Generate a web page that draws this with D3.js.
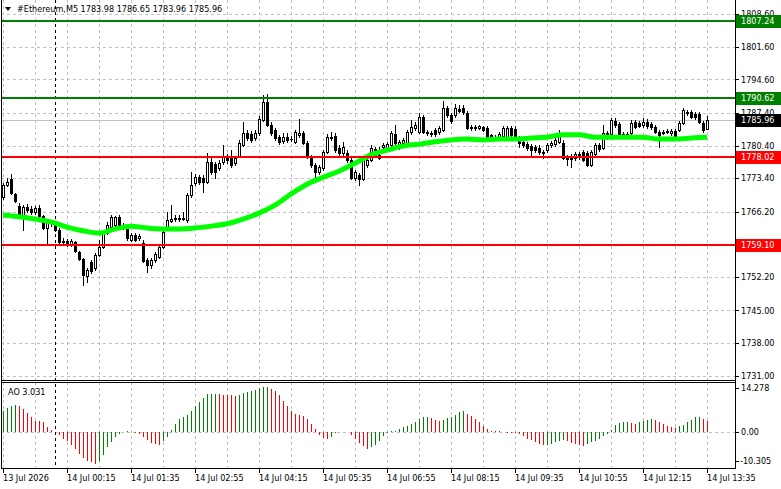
<!DOCTYPE html>
<html>
<head>
<meta charset="utf-8">
<script src="https://cdn.jsdelivr.net/npm/d3@7"></script>
<style>
  body { margin: 0; background: #fff; }
  svg text { font-family: "DejaVu Sans Condensed", "DejaVu Sans", sans-serif; font-size: 9px; }
</style>
</head>
<body>
<div id="chart"></div>
<script>
// ---- data ----
var symbol = "#Ethereum,M5";
var lastQuote = [1783.98, 1786.65, 1783.96, 1785.96];

var open = [
1769.3,1771.9,1773.2,1770.0,1767.4,1765.5,1767.2,1766.8,1766.1,1767.0,
1765.3,1762.7,1764.0,1763.8,1762.3,1759.7,1759.9,1759.0,1759.7,1757.5,
1756.0,1752.4,1755.4,1754.1,1756.9,1758.6,1761.6,1762.9,1763.3,1765.1,
1763.3,1762.9,1760.1,1761.2,1760.5,1759.5,1755.8,1754.8,1755.8,1756.5,
1758.6,1762.9,1764.2,1764.6,1764.8,1764.6,1764.4,1769.8,1772.3,1773.6,
1773.4,1772.6,1776.9,1776.4,1775.6,1776.9,1777.9,1777.7,1776.6,1778.1,
1780.5,1783.1,1782.9,1782.0,1783.1,1785.9,1789.7,1784.8,1783.7,1782.2,
1781.4,1782.2,1781.8,1781.2,1782.7,1783.1,1780.9,1777.9,1776.2,1774.7,
1775.6,1779.0,1782.2,1782.4,1779.9,1778.8,1778.8,1777.3,1773.4,1774.1,
1773.2,1776.2,1777.3,1779.6,1777.7,1780.1,1779.9,1780.5,1782.9,1780.1,
1780.9,1780.9,1783.3,1784.2,1783.3,1786.5,1783.3,1783.1,1783.7,1783.3,
1783.7,1788.4,1786.9,1786.9,1788.2,1788.4,1787.4,1784.2,1784.4,1784.2,
1784.4,1784.2,1782.7,1782.2,1782.0,1782.4,1782.2,1784.2,1783.9,1782.0,
1781.2,1780.7,1780.3,1780.1,1779.9,1779.0,1779.4,1780.5,1780.7,1781.2,
1780.9,1777.9,1778.1,1777.7,1778.6,1779.0,1778.8,1776.2,1778.6,1780.5,
1779.9,1783.1,1782.9,1785.7,1785.0,1782.9,1782.7,1783.1,1785.4,1785.2,
1784.8,1785.4,1785.0,1784.4,1783.3,1783.3,1783.3,1783.1,1783.5,1783.7,
1785.2,1787.6,1787.6,1787.2,1787.2,1785.2,1783.98
];
var high = [
1772.3,1773.4,1774.3,1770.2,1768.1,1767.6,1767.8,1767.4,1767.4,1767.6,
1765.5,1764.4,1764.4,1764.2,1762.7,1760.6,1760.3,1760.3,1759.9,1757.8,
1756.3,1754.1,1755.8,1757.3,1760.1,1762.0,1764.0,1765.5,1765.3,1765.5,
1763.8,1763.3,1761.6,1761.6,1761.4,1760.1,1756.3,1756.3,1757.5,1759.0,
1762.3,1766.1,1767.6,1765.5,1765.5,1766.1,1770.2,1774.7,1774.3,1774.1,
1774.1,1778.8,1777.7,1776.9,1777.3,1780.5,1778.6,1779.4,1778.1,1781.6,
1785.4,1783.7,1783.5,1783.7,1786.7,1791.2,1791.4,1785.4,1784.2,1782.7,
1783.1,1783.1,1782.4,1783.7,1786.1,1783.5,1781.4,1778.4,1776.6,1776.2,
1779.4,1782.9,1783.3,1783.1,1780.5,1781.2,1779.4,1777.7,1775.1,1774.5,
1777.7,1777.7,1780.5,1780.1,1780.1,1780.9,1781.2,1783.5,1784.8,1781.6,
1782.0,1783.7,1785.9,1785.4,1787.4,1786.9,1783.7,1783.5,1784.2,1784.6,
1789.9,1788.9,1787.4,1789.3,1789.1,1789.1,1787.8,1784.8,1784.8,1784.8,
1784.6,1784.6,1782.9,1782.7,1783.3,1784.6,1784.6,1784.6,1784.6,1782.4,
1781.6,1781.2,1780.7,1780.5,1780.5,1779.4,1780.9,1781.4,1782.2,1783.7,
1781.6,1778.4,1778.6,1779.0,1779.0,1779.4,1779.2,1779.4,1780.9,1780.9,
1784.8,1783.5,1786.3,1786.3,1785.4,1783.3,1783.3,1785.9,1785.9,1785.7,
1786.3,1786.1,1785.4,1784.8,1783.7,1783.7,1783.9,1783.9,1783.9,1785.7,
1788.4,1788.0,1788.0,1787.6,1787.6,1785.7,1786.65
];
var low = [
1768.9,1771.7,1770.0,1768.3,1765.3,1762.3,1766.1,1765.7,1765.7,1765.1,
1762.5,1759.0,1763.1,1762.1,1759.5,1759.3,1758.8,1758.8,1757.5,1755.8,
1750.5,1751.1,1753.0,1753.7,1756.7,1758.4,1761.4,1762.7,1762.9,1763.1,
1762.5,1760.1,1759.9,1759.9,1760.1,1755.4,1753.2,1754.1,1755.4,1756.3,
1758.4,1762.5,1764.0,1764.2,1764.2,1764.4,1764.0,1769.3,1771.9,1772.1,
1770.4,1772.3,1774.3,1773.4,1775.1,1776.4,1776.6,1775.8,1776.2,1777.9,
1780.3,1781.6,1781.2,1781.6,1782.7,1785.7,1784.6,1782.7,1781.6,1780.7,
1780.9,1781.2,1781.4,1780.9,1782.2,1780.7,1777.7,1775.8,1772.6,1774.3,
1775.1,1778.8,1781.6,1779.0,1778.4,1778.4,1776.9,1773.2,1773.0,1771.9,
1773.0,1775.8,1777.1,1777.9,1777.5,1779.6,1779.4,1780.3,1780.5,1779.6,
1780.5,1780.7,1782.9,1783.7,1783.1,1783.1,1782.7,1782.4,1782.4,1782.9,
1783.5,1786.5,1785.2,1786.5,1787.6,1787.2,1783.9,1783.7,1783.7,1783.9,
1783.5,1782.0,1781.8,1781.8,1781.8,1782.2,1782.0,1781.8,1781.8,1780.1,
1780.1,1779.4,1778.4,1779.0,1778.6,1777.7,1779.0,1780.1,1780.3,1780.9,
1777.5,1776.2,1775.8,1777.3,1777.5,1777.1,1776.0,1776.0,1778.4,1779.2,
1779.6,1781.8,1782.7,1784.4,1782.7,1782.2,1782.2,1782.9,1784.2,1784.4,
1784.4,1784.2,1783.9,1783.1,1780.1,1782.9,1783.1,1782.7,1781.8,1783.5,
1785.0,1786.9,1786.3,1786.1,1785.2,1783.3,1783.96
];
var close = [
1771.9,1772.6,1770.2,1768.5,1765.5,1767.2,1766.6,1766.1,1767.0,1765.3,
1762.7,1764.0,1763.8,1762.3,1759.7,1759.9,1759.0,1759.9,1757.8,1756.0,
1752.6,1753.7,1753.5,1756.9,1758.6,1761.6,1763.3,1765.1,1765.1,1763.3,
1762.9,1760.5,1761.2,1760.1,1761.0,1755.6,1754.8,1755.8,1757.1,1758.6,
1761.8,1764.4,1764.6,1764.8,1764.6,1764.8,1769.8,1771.9,1773.6,1772.6,
1772.6,1776.9,1774.7,1774.7,1776.6,1777.9,1777.3,1776.2,1777.7,1780.9,
1783.1,1782.0,1781.6,1783.1,1786.1,1789.7,1784.8,1783.1,1782.0,1781.2,
1782.2,1781.6,1781.7,1783.3,1783.1,1780.9,1777.9,1776.2,1774.7,1775.8,
1779.0,1782.2,1782.0,1779.4,1778.8,1780.1,1777.3,1773.4,1774.7,1773.2,
1777.3,1777.3,1779.9,1778.4,1778.4,1780.5,1780.7,1783.1,1780.9,1781.2,
1781.6,1783.3,1784.4,1784.8,1786.5,1783.3,1783.1,1782.9,1782.9,1784.2,
1788.4,1786.9,1785.7,1788.4,1787.8,1787.6,1784.2,1784.4,1784.2,1784.6,
1783.7,1782.2,1782.0,1782.0,1782.9,1784.2,1784.2,1782.6,1782.2,1780.9,
1780.5,1779.9,1779.4,1779.4,1779.0,1778.8,1780.5,1780.9,1781.6,1783.1,
1777.7,1777.5,1777.5,1778.6,1777.9,1777.3,1776.2,1779.0,1780.5,1779.6,
1783.1,1782.2,1785.9,1784.8,1782.9,1782.7,1782.9,1785.2,1784.4,1784.6,
1785.4,1784.6,1784.4,1783.3,1782.7,1783.2,1783.5,1783.5,1782.0,1785.2,
1788.0,1787.4,1786.5,1786.5,1785.4,1783.7,1785.96
];

// moving average, read every 4th bar
var maStep = 4;
var maVals = [
1765.5,1765.1,1764.6,1764.0,1762.9,1762.1,1761.6,1762.5,1763.1,1762.7,
1762.5,1762.5,1762.7,1763.1,1763.6,1764.6,1765.9,1767.6,1770.0,1772.1,
1773.6,1774.9,1776.6,1778.4,1779.4,1780.3,1780.7,1781.2,1781.6,1781.8,
1781.6,1781.8,1781.8,1782.0,1782.2,1782.7,1782.7,1782.2,1782.2,1782.2,
1782.2,1781.8,1781.8,1782.0,1782.2
];

// Awesome Oscillator
var aoVals = [
5.90,6.86,7.52,7.81,7.33,6.57,5.43,4.19,3.24,3.10,
2.90,1.43,0.67,0.10,-0.95,-1.90,-2.67,-3.81,-4.76,-6.29,
-7.43,-8.19,-8.57,-9.05,-8.19,-6.67,-4.38,-2.95,-1.33,-0.57,
-0.10,0.19,0.05,-0.29,-0.57,-1.43,-2.38,-3.14,-3.33,-3.81,
-2.67,-1.33,0.67,2.29,3.71,4.19,4.95,5.90,7.33,8.48,
9.71,10.86,10.95,10.97,10.86,10.70,10.60,10.50,10.40,10.70,
11.00,11.40,11.70,12.10,12.60,12.80,12.90,12.40,11.80,10.60,
8.90,7.30,6.10,5.10,4.80,4.50,3.80,2.30,0.90,-0.80,
-1.70,-2.00,-1.40,-0.30,-0.10,0.02,0.01,-0.95,-1.90,-3.14,
-4.10,-4.76,-4.38,-3.62,-2.60,-1.24,-0.19,0.19,0.38,0.95,
1.33,1.81,2.29,2.76,3.71,4.29,4.35,4.00,3.52,3.24,
3.52,4.00,4.29,4.95,5.71,5.90,5.14,4.48,3.71,2.86,
1.62,0.86,0.38,0.19,0.15,0.00,-0.19,-0.29,-0.38,-0.57,
-1.24,-1.90,-2.38,-2.86,-3.33,-3.81,-3.62,-3.33,-2.86,-2.67,
-2.38,-2.67,-3.14,-3.33,-3.81,-3.90,-3.33,-2.95,-2.67,-2.00,
-1.24,-0.57,0.67,2.10,2.57,2.76,2.86,2.57,2.38,2.86,
3.24,3.52,3.62,3.52,2.86,2.29,1.81,1.33,1.14,1.62,
2.10,2.76,3.52,4.19,4.29,3.71,3.031
];
var aoMax = 14.278, aoMin = -10.305;

var priceTicks = [1808.60,1801.60,1794.60,1787.40,1780.40,1773.40,1766.20,1759.20,1752.20,1745.00,1738.00,1731.00];
var levels = [
  { v: 1807.24, c: "#008000" },
  { v: 1790.62, c: "#008000" },
  { v: 1778.02, c: "#ff0000" },
  { v: 1759.10, c: "#ff0000" }
];
var timeLabels = ["13 Jul 2026","14 Jul 00:15","14 Jul 01:35","14 Jul 02:55","14 Jul 04:15","14 Jul 05:35",
                  "14 Jul 06:55","14 Jul 08:15","14 Jul 09:35","14 Jul 10:55","14 Jul 12:15","14 Jul 13:35"];
var labelEvery = 16, gridEvery = 8, dayStartBar = 13;

// ---- layout ----
var W = 781, H = 489;
var plotL = 1, plotR = 735;
var mainTop = 0, mainBot = 380, aoTop = 382, aoBot = 468;
var n = close.length;

var svg = d3.select("#chart").append("svg")
    .attr("width", W).attr("height", H)
    .style("display", "block");

var x = d3.scaleLinear().domain([0, n - 1]).range([3, 707]);
var y = d3.scaleLinear().domain([1730.5, 1811.0]).range([378, 3]);
var ya = d3.scaleLinear().domain([aoMin, aoMax]).range([aoBot, aoTop]);

function px(v) { return Math.round(v) + 0.5; }

var grid = svg.append("g").attr("shape-rendering", "crispEdges")
    .attr("stroke", "#c0c0c0").attr("stroke-dasharray", "3,3");

// vertical grid
d3.range(0, n, gridEvery).forEach(function(i) {
    grid.append("line").attr("x1", px(x(i))).attr("x2", px(x(i))).attr("y1", mainTop).attr("y2", mainBot);
    grid.append("line").attr("x1", px(x(i))).attr("x2", px(x(i))).attr("y1", aoTop).attr("y2", aoBot);
});
// horizontal grid
priceTicks.forEach(function(p) {
    grid.append("line").attr("x1", plotL).attr("x2", plotR).attr("y1", px(y(p))).attr("y2", px(y(p)));
});
grid.append("line").attr("x1", plotL).attr("x2", plotR).attr("y1", px(ya(0))).attr("y2", px(ya(0)));

// day separator
svg.append("line").attr("shape-rendering", "crispEdges")
    .attr("x1", px(x(dayStartBar))).attr("x2", px(x(dayStartBar)))
    .attr("y1", mainTop).attr("y2", aoBot)
    .attr("stroke", "#000").attr("stroke-dasharray", "3,3");

// current price line
svg.append("line").attr("shape-rendering", "crispEdges")
    .attr("x1", plotL).attr("x2", plotR)
    .attr("y1", px(y(lastQuote[3]))).attr("y2", px(y(lastQuote[3])))
    .attr("stroke", "#c0c0c0");

// candles
var candles = svg.append("g").attr("shape-rendering", "crispEdges");
d3.range(n).forEach(function(i) {
    var cx = Math.round(x(i));
    var yo = Math.round(y(open[i])), yc = Math.round(y(close[i]));
    candles.append("line")
        .attr("x1", cx + 0.5).attr("x2", cx + 0.5)
        .attr("y1", Math.round(y(high[i]))).attr("y2", Math.round(y(low[i])) + 1)
        .attr("stroke", "#000");
    var top = Math.min(yo, yc), h = Math.abs(yo - yc);
    if (h < 1) {
        candles.append("line")
            .attr("x1", cx - 1).attr("x2", cx + 2)
            .attr("y1", top + 0.5).attr("y2", top + 0.5).attr("stroke", "#000");
    } else {
        candles.append("rect")
            .attr("x", cx - 0.5).attr("y", top + 0.5)
            .attr("width", 2).attr("height", h)
            .attr("fill", close[i] >= open[i] ? "#fff" : "#000")
            .attr("stroke", "#000");
    }
});

// moving average
var maLine = d3.line()
    .x(function(d, k) { return x(k * maStep); })
    .y(function(d) { return y(d); })
    .curve(d3.curveMonotoneX);
svg.append("path").datum(maVals)
    .attr("d", maLine)
    .attr("fill", "none").attr("stroke", "#00ff00").attr("stroke-width", 5);

// level lines
levels.forEach(function(l) {
    svg.append("line").attr("shape-rendering", "crispEdges")
        .attr("x1", plotL).attr("x2", plotR)
        .attr("y1", Math.round(y(l.v))).attr("y2", Math.round(y(l.v)))
        .attr("stroke", l.c).attr("stroke-width", 2);
});

// AO histogram
var ao = svg.append("g").attr("shape-rendering", "crispEdges");
aoVals.forEach(function(v, i) {
    var up = i === 0 ? true : v > aoVals[i - 1];
    ao.append("line")
        .attr("x1", px(x(i))).attr("x2", px(x(i)))
        .attr("y1", Math.round(ya(0))).attr("y2", Math.round(ya(v)))
        .attr("stroke", up ? "#008000" : "#ff0000");
});

// frames
var frame = svg.append("g").attr("shape-rendering", "crispEdges").attr("stroke", "#000").attr("fill", "none");
frame.append("line").attr("x1", px(plotL)).attr("x2", px(plotL)).attr("y1", 0).attr("y2", aoBot + 1);
frame.append("line").attr("x1", px(plotR)).attr("x2", px(plotR)).attr("y1", 0).attr("y2", aoBot + 1);
frame.append("line").attr("x1", plotL).attr("x2", plotR).attr("y1", px(mainBot)).attr("y2", px(mainBot));
frame.append("line").attr("x1", plotL).attr("x2", plotR).attr("y1", px(aoTop)).attr("y2", px(aoTop));
frame.append("line").attr("x1", plotL).attr("x2", plotR).attr("y1", px(aoBot)).attr("y2", px(aoBot));

// price axis
priceTicks.forEach(function(p) {
    frame.append("line").attr("x1", plotR).attr("x2", plotR + 4).attr("y1", px(y(p))).attr("y2", px(y(p)));
    svg.append("text").attr("x", 741).attr("y", y(p)).attr("dy", "0.35em").text(p.toFixed(2));
});
[aoMax, 0, aoMin].forEach(function(v) {
    var yy = v === aoMax ? aoTop + 6 : (v === aoMin ? aoBot - 7 : ya(0));
    frame.append("line").attr("x1", plotR).attr("x2", plotR + 4).attr("y1", px(yy)).attr("y2", px(yy));
    svg.append("text").attr("x", v < 0 ? 740 : 741).attr("y", yy).attr("dy", "0.35em")
        .text(v === 0 ? "0.00" : v.toFixed(3));
});

// value labels on the axis
function axisTag(v, c) {
    var yy = Math.round(y(v));
    svg.append("rect").attr("x", 736).attr("y", yy - 6).attr("width", 45).attr("height", 13).attr("fill", c);
    svg.append("text").attr("x", 741).attr("y", yy).attr("dy", "0.35em").attr("fill", "#fff").text(v.toFixed(2));
}
levels.forEach(function(l) { axisTag(l.v, l.c); });
axisTag(lastQuote[3], "#000");

// time axis
timeLabels.forEach(function(t, k) {
    var xi = px(x(k * labelEvery));
    frame.append("line").attr("x1", xi).attr("x2", xi).attr("y1", aoBot).attr("y2", aoBot + 5);
    svg.append("text").attr("x", xi - 0.5).attr("y", 481).text(t);
});

// header
svg.append("path").attr("d", "M5,7 L11,7 L8,11 Z").attr("fill", "#000");
svg.append("text").attr("x", 17).attr("y", 12)
    .text(symbol + "  " + lastQuote.map(function(v) { return v.toFixed(2); }).join(" "));
svg.append("text").attr("x", 8).attr("y", 395).text("AO " + aoVals[n - 1].toFixed(3));
</script>
</body>
</html>
